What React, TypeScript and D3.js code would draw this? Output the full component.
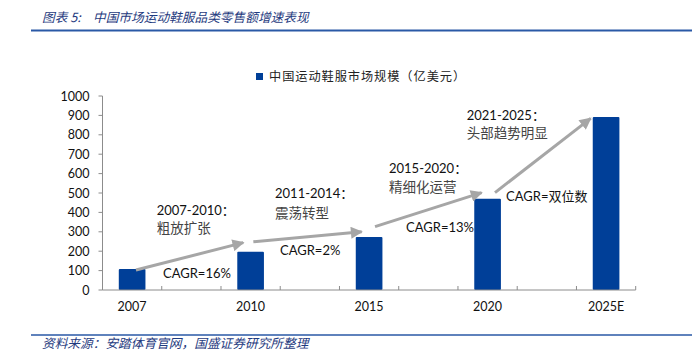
import React from "react";
import * as d3 from "d3";

const categories = ["2007", "", "2010", "", "2015", "", "2020", "", "2025E"];
const values = [108, null, 197, null, 273, null, 470, null, 892];
const yTicks = [0, 100, 200, 300, 400, 500, 600, 700, 800, 900, 1000];
const legendLabel = "中国运动鞋服市场规模（亿美元）";

// arrows: [startPos, startVal, endPos, endVal] in category-position / value space
const arrowStartPos = [0.565, 2.546, 4.6, 6.625];
const arrowStartVal = [103, 249, 327, 502];
const arrowEndPos = [2.377, 4.375, 6.4, 8.24];
const arrowEndVal = [244, 300, 502, 885];

const periodLabels = ["2007-2010：", "2011-2014：", "2015-2020：", "2021-2025："];
const phaseLabels = ["粗放扩张", "震荡转型", "精细化运营", "头部趋势明显"];
const periodPos = [0.915, 2.912, 4.836, 6.148];
const periodVal = [387, 476, 603, 876];
const phaseVal = [294, 373, 507, 784];
const cagrLabels = ["CAGR=16%", "CAGR=2%", "CAGR=13%", "CAGR=双位数"];
const cagrPos = [1.021, 2.996, 5.123, 6.811];
const cagrVal = [62, 180, 300, 459];

const W = 692;
const H = 356;
const FONT = "Lato, 'Noto Sans CJK SC', sans-serif";
const CJK = "'Noto Sans CJK SC', sans-serif";

export default function App() {
  const x0 = 102.5;
  const x1 = 635.7;
  const x = d3.scaleBand<number>().domain(d3.range(categories.length)).range([x0, x1]).padding(0);
  const pos = d3.scaleLinear().domain([0, categories.length]).range([x0, x1]);
  const y = d3.scaleLinear().domain([0, 1000]).range([290, 96]);
  const bw = x.bandwidth() * 0.45;
  const titleColor = "#1F3B80";
  const lineColor = "#2A59A6";
  const barColor = "#003F98";
  const arrowColor = "#A6A6A6";

  return (
    <svg width={W} height={H} style={{ position: "absolute", left: 0, top: 0, background: "#fff" }}>
      <defs>
        <marker id="ah" viewBox="0 0 10 10" refX="9" refY="5" markerWidth="4.2" markerHeight="4" orient="auto" markerUnits="strokeWidth">
          <path d="M0,0 L10,5 L0,10 z" fill={arrowColor} />
        </marker>
      </defs>
      {/* title */}
      <text x={42} y={22} fontFamily={CJK} fontSize={12.7} fontStyle="italic" fill={titleColor}>
        图表 5:
      </text>
      <text x={93} y={22} fontFamily={CJK} fontSize={12.7} fontStyle="italic" fill={titleColor}>
        中国市场运动鞋服品类零售额增速表现
      </text>
      <line x1={31} x2={692} y1={30.5} y2={30.5} stroke={lineColor} strokeWidth={2} />

      {/* legend */}
      <rect x={256} y={73} width={7} height={7} fill={barColor} />
      <text x={269} y={80.5} fontFamily={CJK} fontSize={12.2} letterSpacing={0.95} fill="#222">
        {legendLabel}
      </text>

      {/* y axis */}
      <line x1={x0} x2={x0} y1={y(1000)} y2={y(0)} stroke="#8C8C8C" strokeWidth={1} />
      {yTicks.map((t) => (
        <g key={t}>
          <line x1={x0 - 4} x2={x0} y1={y(t)} y2={y(t)} stroke="#8C8C8C" />
          <text x={89.5} y={y(t) + 4.5} textAnchor="end" fontFamily={FONT} fontSize={12.5} fill="#111">
            {t}
          </text>
        </g>
      ))}

      {/* bars */}
      {values.map((v, i) =>
        v == null ? null : (
          <rect key={i} x={(x(i) as number) + (x.bandwidth() - bw) / 2} y={y(v)} width={bw} height={y(0) - y(v)} fill={barColor} rx={1} />
        )
      )}

      {/* x axis */}
      <line x1={x0} x2={x1} y1={y(0)} y2={y(0)} stroke="#8C8C8C" strokeWidth={1} />
      {d3.range(categories.length + 1).map((i) => (
        <line key={i} x1={pos(i)} x2={pos(i)} y1={y(0) - 4} y2={y(0)} stroke="#8C8C8C" />
      ))}
      {categories.map((c, i) =>
        c ? (
          <text key={i} x={(x(i) as number) + x.bandwidth() / 2} y={311} textAnchor="middle" fontFamily={FONT} fontSize={12.5} fill="#111">
            {c}
          </text>
        ) : null
      )}

      {/* arrows */}
      {arrowStartPos.map((p, i) => (
        <line
          key={i}
          x1={pos(p)}
          y1={y(arrowStartVal[i])}
          x2={pos(arrowEndPos[i])}
          y2={y(arrowEndVal[i])}
          stroke={arrowColor}
          strokeWidth={3}
          markerEnd="url(#ah)"
        />
      ))}

      {/* annotations */}
      {periodLabels.map((t, i) => (
        <g key={i}>
          <text x={pos(periodPos[i])} y={y(periodVal[i])} fontFamily={FONT} fontSize={13} fill="#111">
            {t}
          </text>
          <text x={pos(periodPos[i])} y={y(phaseVal[i])} fontFamily={CJK} fontSize={13.5} fill="#444">
            {phaseLabels[i]}
          </text>
          <text x={pos(cagrPos[i])} y={y(cagrVal[i])} fontFamily={FONT} fontSize={13} fill="#111">
            {cagrLabels[i]}
          </text>
        </g>
      ))}

      {/* footer */}
      <line x1={31} x2={692} y1={335} y2={335} stroke={lineColor} strokeWidth={1.5} />
      <text x={42} y={347.5} fontFamily={CJK} fontSize={12.7} fontStyle="italic" fill={titleColor}>
        资料来源：安踏体育官网，国盛证券研究所整理
      </text>
    </svg>
  );
}
